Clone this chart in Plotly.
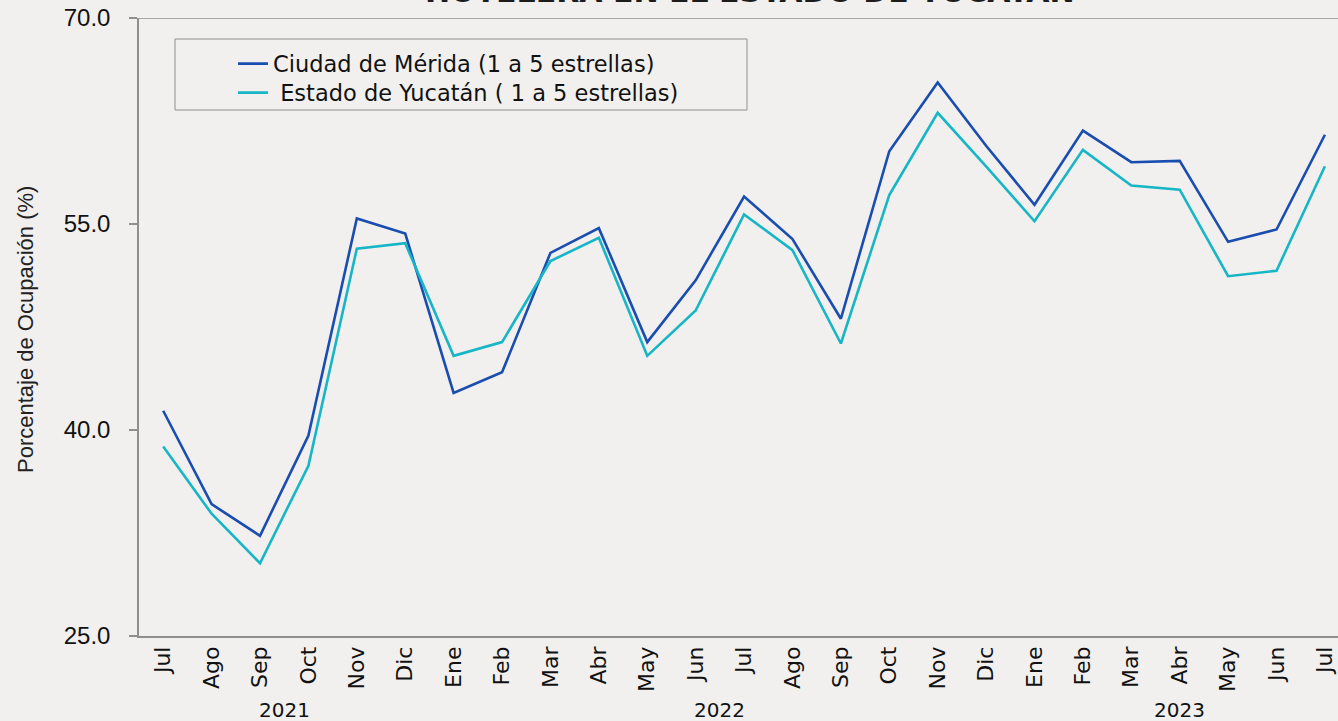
import plotly.graph_objects as go

meses = ["Jul", "Ago", "Sep", "Oct", "Nov", "Dic", "Ene", "Feb", "Mar", "Abr", "May", "Jun",
         "Jul", "Ago", "Sep", "Oct", "Nov", "Dic", "Ene", "Feb", "Mar", "Abr", "May", "Jun", "Jul"]
anios = ["2021", "2022", "2023"]
anio_centro = [2.5, 11.5, 21.0]

merida = [41.4, 34.6, 32.3, 39.6, 55.4, 54.3, 42.7, 44.2, 52.9, 54.7, 46.4, 50.9,
          57.0, 53.9, 48.1, 60.3, 65.3, 60.7, 56.4, 61.8, 59.5, 59.6, 53.7, 54.6, 61.5]
yucatan = [38.8, 33.9, 30.3, 37.4, 53.2, 53.6, 45.4, 46.4, 52.3, 54.0, 45.4, 48.7,
           55.7, 53.1, 46.3, 57.1, 63.1, 59.2, 55.2, 60.4, 57.8, 57.5, 51.2, 51.6, 59.2]

y_ticks = [25, 40, 55, 70]

W, H = 1338, 721
L, R, T, B = 139, 0, 18, 85
pw, ph = W - L - R, H - T - B

font_main = "DejaVu Sans"
font_arial = "Liberation Sans"

x_idx = list(range(len(meses)))

fig = go.Figure()
fig.add_trace(go.Scatter(x=x_idx, y=merida, mode="lines", name="Ciudad de Mérida (1 a 5 estrellas)",
                         line=dict(color="#1a4db0", width=2.6), legend="legend"))
fig.add_trace(go.Scatter(x=x_idx, y=yucatan, mode="lines", name=" Estado de Yucatán ( 1 a 5 estrellas)",
                         line=dict(color="#17b6c6", width=2.6), legend="legend2"))

def px_x(p):
    return (p - L) / pw

def px_y(p):
    return (H - B - p) / ph

annotations = []
for a, c in zip(anios, anio_centro):
    annotations.append(dict(x=c, xref="x", y=px_y(710), yref="paper", text=a, showarrow=False,
                            font=dict(family=font_main, size=20, color="#111"),
                            xanchor="center", yanchor="middle"))
annotations.append(dict(x=px_x(25), xref="paper", y=px_y(330), yref="paper", text="Porcentaje de Ocupación (%)",
                        textangle=-90, showarrow=False, xanchor="center", yanchor="middle",
                        font=dict(family=font_arial, size=22, color="#222")))
annotations.append(dict(x=px_x(750), xref="paper", y=px_y(-9), yref="paper",
                        text="<b>HOTELERA EN EL ESTADO DE YUCATÁN</b>", showarrow=False,
                        xanchor="center", yanchor="middle",
                        font=dict(family=font_main, size=30, color="#1c1c1c")))

shapes = [
    dict(type="line", xref="paper", yref="y", x0=px_x(131), x1=1, y0=70, y1=70,
         line=dict(color="#8f8f8f", width=1.5)),
    dict(type="rect", xref="paper", yref="paper", x0=px_x(175), x1=px_x(747), y0=px_y(110), y1=px_y(39),
         line=dict(color="#8f8f8f", width=1)),
]

leg_common = dict(xanchor="left", yanchor="middle", bgcolor="rgba(0,0,0,0)", borderwidth=0,
                  font=dict(family=font_main, size=22.5, color="#111"))

fig.update_layout(
    width=W, height=H,
    margin=dict(l=L, r=R, t=T, b=B),
    paper_bgcolor="#f1f0ee", plot_bgcolor="rgba(0,0,0,0)",
    showlegend=True,
    legend=dict(x=px_x(233), y=px_y(64), **leg_common),
    legend2=dict(x=px_x(233), y=px_y(93), **leg_common),
    annotations=annotations, shapes=shapes,
    xaxis=dict(range=[-0.5, 24.27],
               tickmode="array", tickvals=x_idx, ticktext=meses, tickangle=-90,
               showgrid=False, zeroline=False, showline=True, linecolor="#8f8f8f", linewidth=1.5,
               ticks="", ticklen=0, tickfont=dict(family=font_main, size=22, color="#111"),
               ticklabelstandoff=0),
    yaxis=dict(range=[25, 70], tickmode="array", tickvals=y_ticks, ticktext=[f"{v:.1f}" for v in y_ticks],
               showgrid=False, zeroline=False, showline=True, linecolor="#8f8f8f", linewidth=1.5,
               ticks="outside", ticklen=8, tickcolor="#8f8f8f", tickwidth=1.5,
               tickfont=dict(family=font_arial, size=24, color="#111"), ticklabelstandoff=14),
)

fig.write_html("out.html", config={"displayModeBar": False},
               post_script="document.body.style.margin='0';document.body.style.overflow='hidden';")
